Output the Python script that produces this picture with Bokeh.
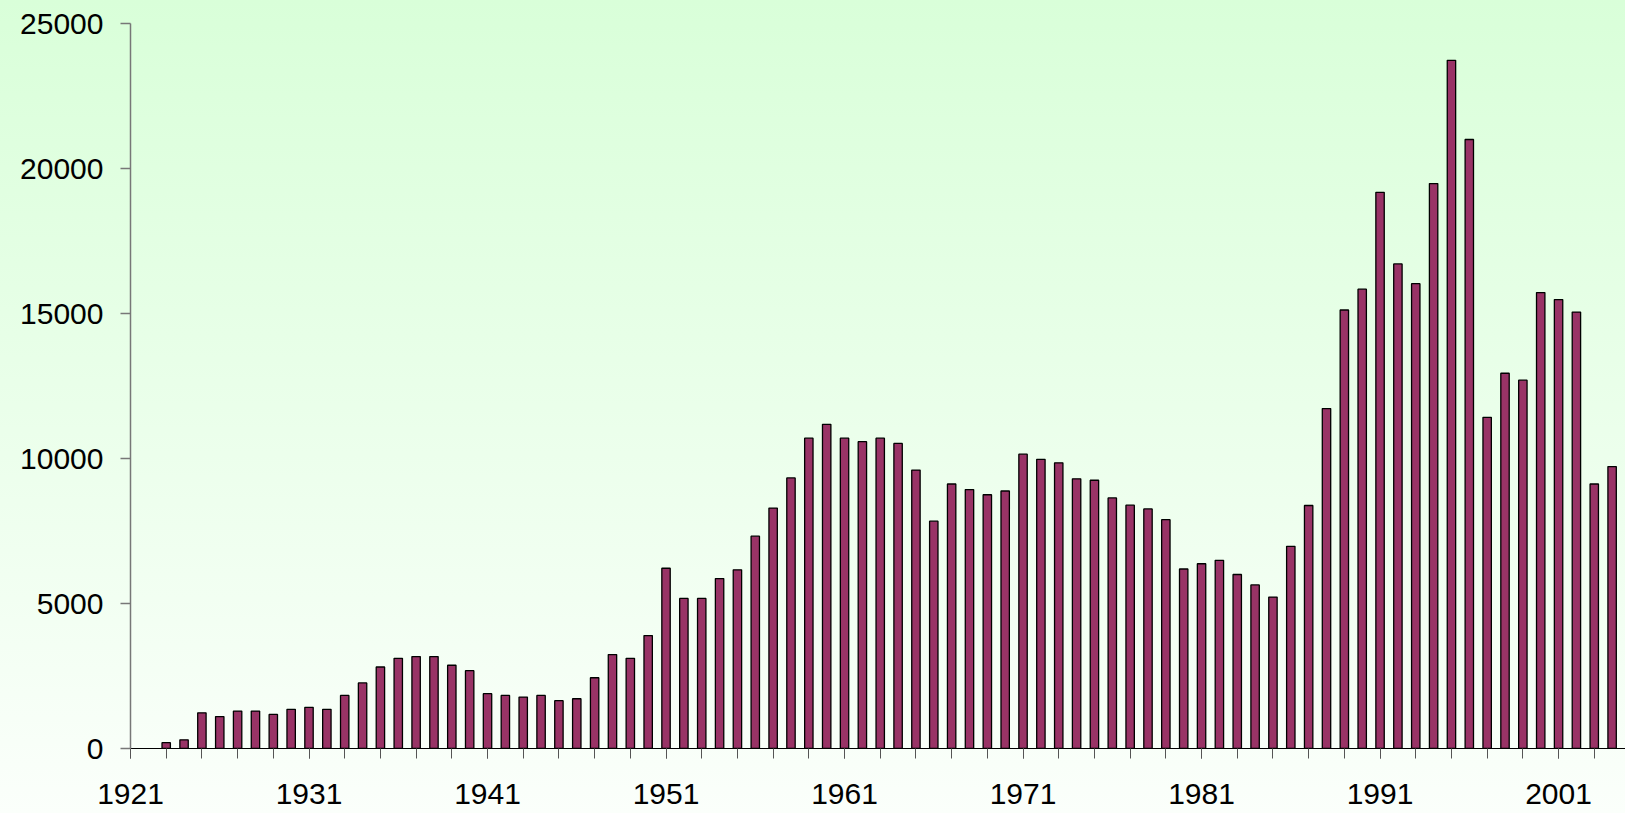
from bokeh.plotting import figure
from bokeh.models import Range1d, FixedTicker, GlobalInlineStyleSheet
from bokeh.embed import file_html
from bokeh.resources import INLINE

# ---- data ----
years = list(range(1923, 2005))
values = [200, 300, 1230, 1100, 1290, 1290, 1175, 1350, 1420, 1350,
          1830, 2260, 2810, 3110, 3170, 3170, 2870, 2685, 1890, 1830,
          1775, 1830, 1650, 1715, 2440, 3240, 3110, 3895, 6215, 5175,
          5175, 5860, 6160, 7320, 8290, 9330, 10700, 11180, 10700, 10580,
          10700, 10520, 9600, 7840, 9120, 8930, 8750, 8880, 10150, 9970,
          9850, 9300, 9250, 8640, 8390, 8260, 7890, 6190, 6370, 6490,
          6000, 5640, 5220, 6970, 8380, 11720, 15120, 15840, 19180, 16710,
          16030, 19480, 23730, 21000, 11420, 12940, 12700, 15720, 15480, 15050,
          9120, 9720]
x_label_years = list(range(1921, 2002, 10))
x_tick_years = list(range(1921, 2005, 2))
y_ticks = [0, 5000, 10000, 15000, 20000, 25000]

FONT = "Liberation Sans"

p = figure(width=1625, height=813, output_backend="svg", toolbar_location=None,
           x_range=Range1d(1921, 2004.75), y_range=Range1d(0, 25000),
           min_border_left=130, min_border_right=0, min_border_top=23,
           min_border_bottom=65)

p.background_fill_alpha = 0
p.border_fill_alpha = 0
p.outline_line_color = None
p.xgrid.grid_line_color = None
p.ygrid.grid_line_color = None

p.styles = {"background": "linear-gradient(to bottom, #d9ffd9, #fbfffb)"}
p.stylesheets = [GlobalInlineStyleSheet(
    css="html { background: linear-gradient(to bottom, #d9ffd9 0px, #fbfffb 813px) no-repeat; "
        "background-color: #fbfffb; min-height: 100%; }")]

p.vbar(x=years, top=values, width=0.47, bottom=0,
       fill_color="#993366", line_color="#000000", line_width=1.3)

# x axis
xa = p.xaxis[0]
xa.ticker = FixedTicker(ticks=x_label_years, minor_ticks=x_tick_years)
xa.axis_line_color = "#000000"
xa.axis_line_width = 1.2
xa.major_tick_in = 0
xa.major_tick_out = 10
xa.minor_tick_in = 0
xa.minor_tick_out = 10
xa.major_tick_line_color = "#555555"
xa.minor_tick_line_color = "#555555"
xa.major_label_text_font = FONT
xa.major_label_text_font_size = "30px"
xa.major_label_text_color = "#000000"
xa.major_label_standoff = 25

# y axis
ya = p.yaxis[0]
ya.ticker = FixedTicker(ticks=y_ticks, minor_ticks=[])
ya.axis_line_color = "#777777"
ya.axis_line_width = 1.5
ya.major_tick_in = 0
ya.major_tick_out = 10
ya.minor_tick_line_color = None
ya.major_tick_line_color = "#777777"
ya.major_tick_line_width = 1.5
ya.major_label_text_font = FONT
ya.major_label_text_font_size = "30px"
ya.major_label_text_color = "#000000"
ya.major_label_standoff = 17

open("out.html", "w").write(file_html(p, INLINE))
